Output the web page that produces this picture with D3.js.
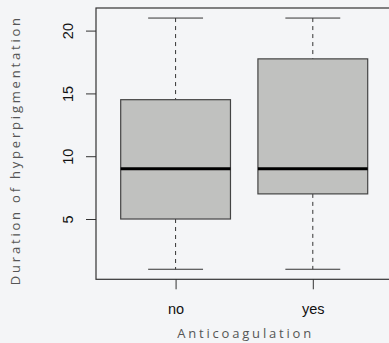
<!doctype html>
<html>
<head>
<meta charset="utf-8">
<title>Boxplot</title>
<style>
body { margin: 0; background: #f4f5f7; }
svg { display: block; background: #f4f5f7; }
.tick text { font-family: "Liberation Sans", Arial, sans-serif; font-size: 14.5px; fill: #111; }
.title { font-family: "Open Sans", sans-serif; font-size: 13px; fill: #555; letter-spacing: 2.8px; }
</style>
<script src="https://cdn.jsdelivr.net/npm/d3@7"></script>
</head>
<body>
<script>
var categories = ["no", "yes"];
var lowerWhisker = [1, 1];
var q1 = [5, 7];
var median = [9, 9];
var q3 = [14.5, 17.75];
var upperWhisker = [21, 21];
var yTicks = [5, 10, 15, 20];

var width = 389, height = 343;
var plot = { left: 96, top: 8, right: 392.4, bottom: 279.3 };

var svg = d3.select("body").append("svg")
    .attr("width", width)
    .attr("height", height);

var x = d3.scaleLinear().domain([0.42, 2.58]).range([plot.left, plot.right]);
var y = d3.scaleLinear().domain([0.2, 21.8]).range([plot.bottom, plot.top]);

var data = categories.map(function(c, i) {
    return { name: c, pos: i + 1, lo: lowerWhisker[i], q1: q1[i], med: median[i], q3: q3[i], hi: upperWhisker[i] };
});

var boxW = 0.8;

var g = svg.selectAll(".box").data(data).enter().append("g").attr("class", "box");

// whiskers (dashed)
g.append("line")
    .attr("x1", function(d) { return x(d.pos); })
    .attr("x2", function(d) { return x(d.pos); })
    .attr("y1", function(d) { return y(d.hi); })
    .attr("y2", function(d) { return y(d.q3); })
    .attr("stroke", "#333").attr("stroke-dasharray", "4,4");
g.append("line")
    .attr("x1", function(d) { return x(d.pos); })
    .attr("x2", function(d) { return x(d.pos); })
    .attr("y1", function(d) { return y(d.q1); })
    .attr("y2", function(d) { return y(d.lo); })
    .attr("stroke", "#333").attr("stroke-dasharray", "4,4");

// caps
["hi", "lo"].forEach(function(k) {
    g.append("line")
        .attr("x1", function(d) { return x(d.pos - boxW / 4); })
        .attr("x2", function(d) { return x(d.pos + boxW / 4); })
        .attr("y1", function(d) { return y(d[k]); })
        .attr("y2", function(d) { return y(d[k]); })
        .attr("stroke", "#333");
});

g.append("rect")
    .attr("x", function(d) { return x(d.pos - boxW / 2); })
    .attr("width", function(d) { return x(d.pos + boxW / 2) - x(d.pos - boxW / 2); })
    .attr("y", function(d) { return y(d.q3); })
    .attr("height", function(d) { return y(d.q1) - y(d.q3); })
    .attr("fill", "#c0c1bf").attr("stroke", "#444").attr("stroke-width", 1.2);

g.append("line")
    .attr("x1", function(d) { return x(d.pos - boxW / 2); })
    .attr("x2", function(d) { return x(d.pos + boxW / 2); })
    .attr("y1", function(d) { return y(d.med); })
    .attr("y2", function(d) { return y(d.med); })
    .attr("stroke", "#000").attr("stroke-width", 3);

// frame
svg.append("rect")
    .attr("x", plot.left).attr("y", plot.top)
    .attr("width", plot.right - plot.left).attr("height", plot.bottom - plot.top)
    .attr("fill", "none").attr("stroke", "#333").attr("stroke-width", 1.2);

// y axis
var yAxis = svg.append("g")
    .attr("transform", "translate(" + plot.left + ",0)")
    .call(d3.axisLeft(y).tickValues(yTicks).tickSize(10).tickPadding(0));
yAxis.select(".domain").remove();
yAxis.selectAll(".tick line").attr("stroke", "#333");
yAxis.selectAll(".tick text")
    .attr("x", null).attr("dy", null)
    .attr("text-anchor", "middle")
    .attr("transform", "translate(-23,0) rotate(-90)");

// x axis
var xAxis = svg.append("g")
    .attr("transform", "translate(0," + plot.bottom + ")")
    .call(d3.axisBottom(x).tickValues([1, 2]).tickFormat(function(d) { return categories[d - 1]; }).tickSize(10).tickPadding(0));
xAxis.select(".domain").remove();
xAxis.selectAll(".tick line").attr("stroke", "#333");
xAxis.selectAll(".tick text").attr("dy", null).attr("y", 35);

// titles
svg.append("text").attr("class", "title")
    .attr("x", (plot.left + plot.right) / 2 + 1.4).attr("y", 338)
    .attr("text-anchor", "middle")
    .text("Anticoagulation");

svg.append("text").attr("class", "title")
    .attr("text-anchor", "middle")
    .attr("transform", "translate(19.5," + ((plot.top + plot.bottom) / 2 + 6.5) + ") rotate(-90)")
    .text("Duration of hyperpigmentation");
</script>
</body>
</html>
